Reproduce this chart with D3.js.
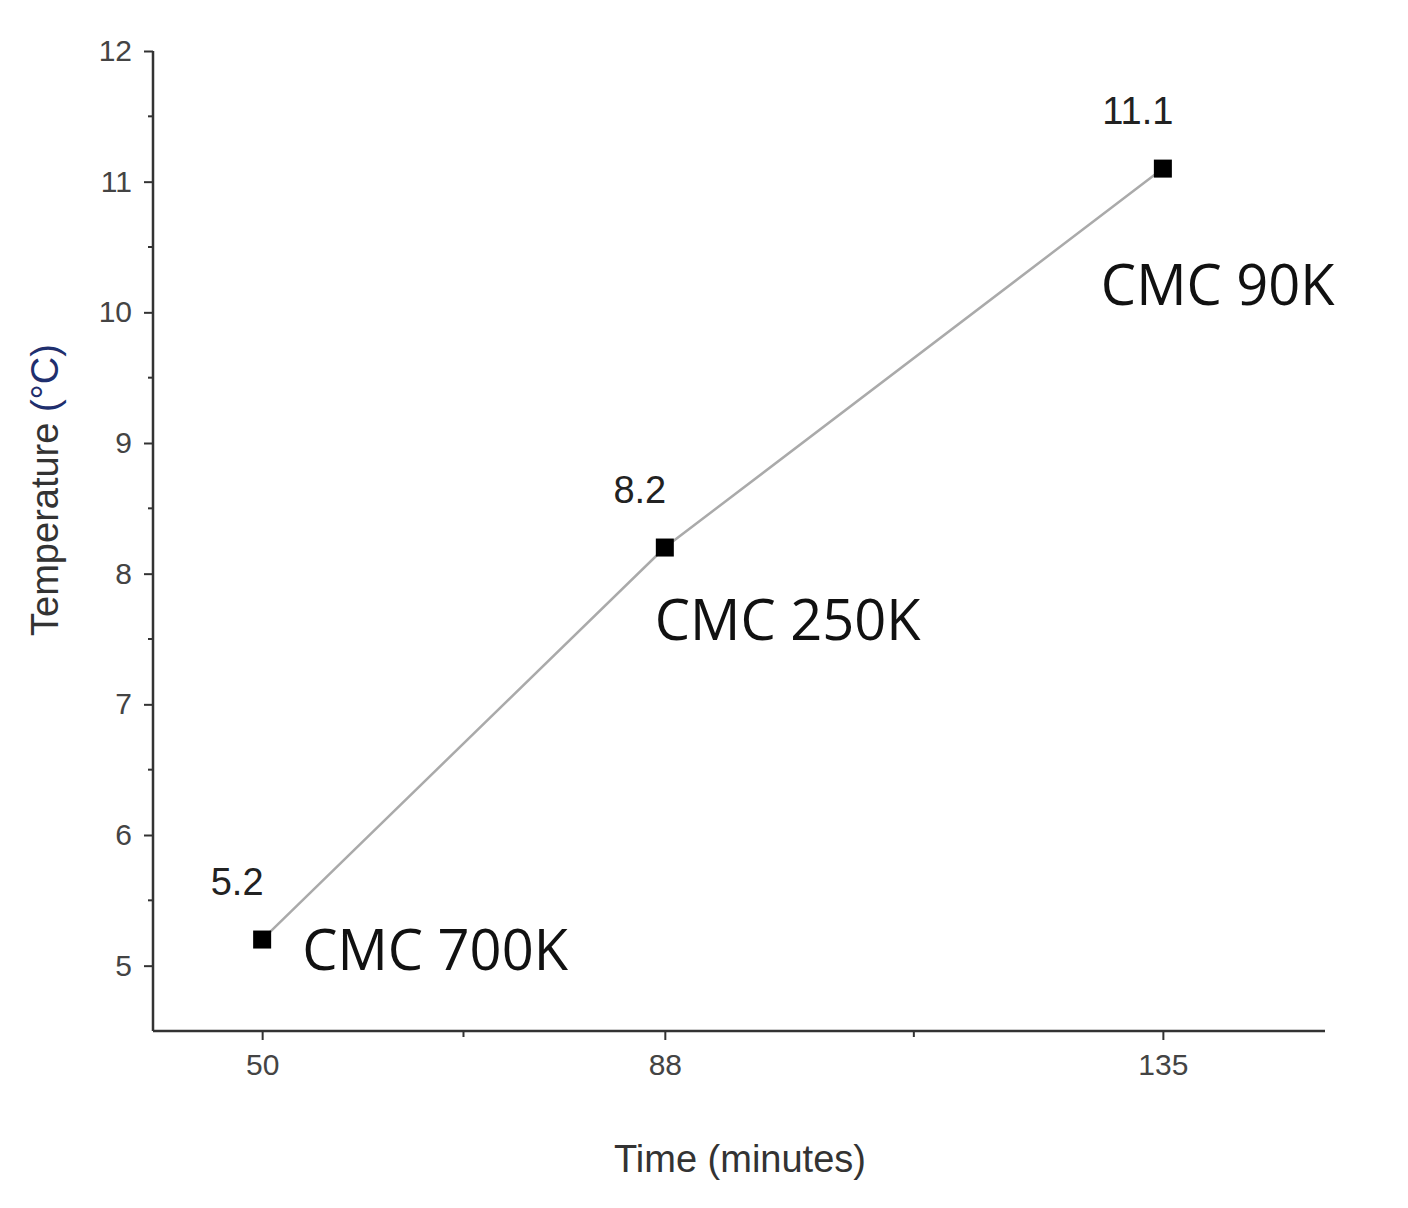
<!DOCTYPE html>
<html><head><meta charset="utf-8">
<script src="https://cdn.jsdelivr.net/npm/d3@7"></script>
<style>body{margin:0;background:#fff}</style>
</head><body>
<svg id="chart" width="1408" height="1208"></svg>
<script>
const times = [50, 88, 135]
const temps = [5.2, 8.2, 11.1]
const names = ["CMC 700K", "CMC 250K", "CMC 90K"]
const yTicks = [5, 6, 7, 8, 9, 10, 11, 12]

const svg = d3.select("#chart")
const plotL = 153, plotR = 1325, plotT = 51, plotB = 1031

const x = d3.scaleLinear().domain([39.7, 150.3]).range([plotL, plotR])
const y = d3.scaleLinear().domain([4.5, 12]).range([plotB, plotT])

// axes
const xAxis = d3.axisBottom(x).tickValues(times).tickSize(9).tickPadding(14)
const gx = svg.append("g").attr("transform", "translate(0," + plotB + ")").call(xAxis)
gx.selectAll(".tick text").attr("font-size", 30).attr("fill", "#444")
gx.select(".domain").attr("d", "M" + plotL + ",0H" + plotR).attr("stroke-width", 2.5).attr("stroke", "#333")
gx.selectAll(".tick line").attr("stroke-width", 2).attr("stroke", "#333")
// minor x ticks
svg.append("g").selectAll("line").data([(50+88)/2, (88+135)/2]).enter().append("line")
  .attr("x1", d=>x(d)).attr("x2", d=>x(d)).attr("y1", plotB).attr("y2", plotB + 6)
  .attr("stroke", "#333").attr("stroke-width", 2)

const yAxis = d3.axisLeft(y).tickValues(yTicks).tickSize(9).tickPadding(12)
const gy = svg.append("g").attr("transform", "translate(" + plotL + ",0)").call(yAxis)
gy.selectAll(".tick text").attr("font-size", 30).attr("fill", "#444")
gy.select(".domain").attr("d", "M0," + plotT + "V" + plotB).attr("stroke-width", 2.5).attr("stroke", "#333")
gy.selectAll(".tick line").attr("stroke-width", 2).attr("stroke", "#333")
svg.append("g").selectAll("line").data(yTicks.slice(0,-1).map(v=>v+0.5)).enter().append("line")
  .attr("x1", plotL - 5).attr("x2", plotL).attr("y1", d=>y(d)).attr("y2", d=>y(d))
  .attr("stroke", "#333").attr("stroke-width", 2)

svg.selectAll("g text").attr("font-family", "Arial, Liberation Sans")

// titles
svg.append("text").attr("x", 740).attr("y", 1172).attr("text-anchor", "middle")
  .attr("font-family", "Arial, Liberation Sans").attr("font-size", 38).attr("fill", "#333")
  .text("Time (minutes)")
const yt = svg.append("text").attr("transform", "translate(58,490) rotate(-90)")
  .attr("text-anchor", "middle").attr("font-family", "Arial, Liberation Sans")
  .attr("font-size", 38).attr("fill", "#333")
yt.append("tspan").text("Temperature ")
yt.append("tspan").attr("fill", "#1f2f6e").text("(°C)")

const pts = times.map((t, i) => ({t, v: temps[i], n: names[i]}))

svg.append("path").datum(pts)
  .attr("d", d3.line().x(d=>x(d.t)).y(d=>y(d.v)))
  .attr("fill", "none").attr("stroke", "#aaa").attr("stroke-width", 2.5)

svg.selectAll(".pt").data(pts).enter().append("rect").attr("class", "pt")
  .attr("x", d=>x(d.t) - 9).attr("y", d=>y(d.v) - 9).attr("width", 18).attr("height", 18)
  .attr("fill", "#000")

svg.selectAll(".val").data(pts).enter().append("text")
  .attr("x", d=>x(d.t) - 25).attr("y", d=>y(d.v) - 45).attr("text-anchor", "middle")
  .attr("font-family", "Arial, Liberation Sans").attr("font-size", 38).attr("fill", "#222")
  .text(d=>d.v.toFixed(1))

const nameOffsets = [[40, 30], [-10, 92], [-62, 136]]
svg.selectAll(".nm").data(pts).enter().append("text")
  .attr("x", (d,i)=>x(d.t) + nameOffsets[i][0]).attr("y", (d,i)=>y(d.v) + nameOffsets[i][1])
  .attr("font-family", "Open Sans, Noto Sans").attr("font-size", 56).attr("fill", "#111")
  .text(d=>d.n)
</script>
</body></html>
